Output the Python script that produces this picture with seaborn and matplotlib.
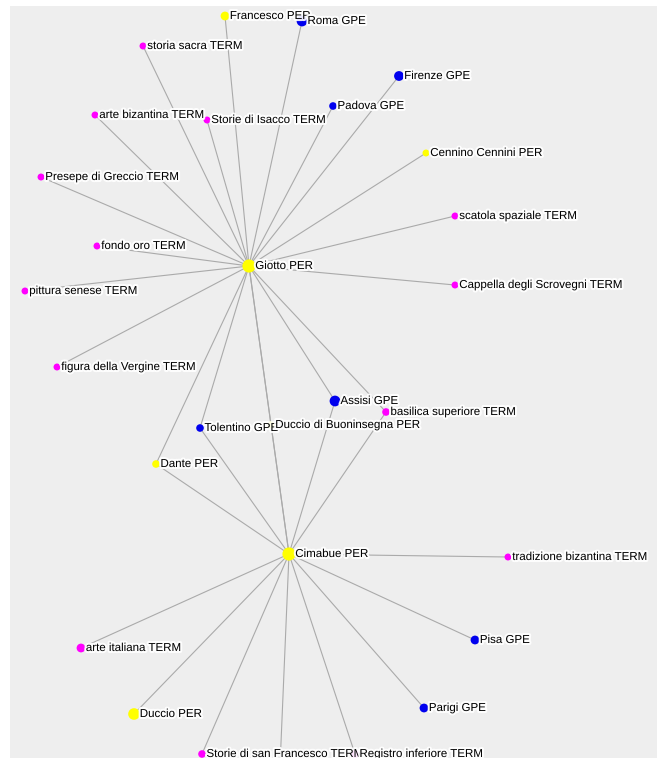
import matplotlib
matplotlib.use('Agg')
import matplotlib.pyplot as plt
import matplotlib.patheffects as pe
from matplotlib import font_manager
import seaborn as sns
import pandas as pd

# ── Graph data (positions, in pixels) ────────────────────────────────────────

names = ['Francesco PER', 'Roma GPE', 'storia sacra TERM', 'Firenze GPE',
         'Padova GPE', 'arte bizantina TERM', 'Storie di Isacco TERM',
         'Cennino Cennini PER', 'Presepe di Greccio TERM', 'scatola spaziale TERM',
         'fondo oro TERM', 'Giotto PER', 'pittura senese TERM',
         'Cappella degli Scrovegni TERM', 'figura della Vergine TERM',
         'Assisi GPE', 'basilica superiore TERM', 'Tolentino GPE',
         'Duccio di Buoninsegna PER', 'Dante PER', 'Cimabue PER',
         'tradizione bizantina TERM', 'arte italiana TERM', 'Pisa GPE',
         'Parigi GPE', 'Duccio PER', 'Storie di san Francesco TERM',
         'Registro inferiore TERM', '']
kinds = ['PER', 'GPE', 'TERM', 'GPE', 'GPE', 'TERM', 'TERM', 'PER', 'TERM', 'TERM',
         'TERM', 'PER', 'TERM', 'TERM', 'TERM', 'GPE', 'TERM', 'GPE', 'PER', 'PER',
         'PER', 'TERM', 'TERM', 'GPE', 'GPE', 'PER', 'TERM', 'TERM', 'TERM']
node_x = [225, 302, 143, 399, 333, 95, 207, 426, 41, 455, 97, 249, 25, 455, 57,
          335, 386, 200, 271, 156, 289, 508, 81, 475, 424, 134, 202, 355, 279]
node_y = [16, 21, 46, 76, 106, 115, 120, 153, 177, 216, 246, 266, 291, 285, 367,
          401, 412, 428, 425, 464, 554, 557, 648, 640, 708, 714, 754, 754, 790]
node_size = [40, 60, 25, 50, 30, 25, 25, 25, 25, 25, 25, 90, 25, 25, 25,
             60, 30, 30, 25, 30, 90, 25, 40, 40, 40, 70, 30, 30, 25]

giotto_links = ['Francesco PER', 'Roma GPE', 'storia sacra TERM', 'Firenze GPE',
                'Padova GPE', 'arte bizantina TERM', 'Storie di Isacco TERM',
                'Cennino Cennini PER', 'Presepe di Greccio TERM',
                'scatola spaziale TERM', 'fondo oro TERM', 'pittura senese TERM',
                'Cappella degli Scrovegni TERM', 'figura della Vergine TERM',
                'Assisi GPE', 'basilica superiore TERM', 'Tolentino GPE',
                'Duccio di Buoninsegna PER', 'Dante PER', 'Cimabue PER']
cimabue_links = ['Dante PER', 'Tolentino GPE', 'Duccio di Buoninsegna PER',
                 'Assisi GPE', 'basilica superiore TERM', 'tradizione bizantina TERM',
                 'arte italiana TERM', 'Duccio PER', 'Storie di san Francesco TERM',
                 '', 'Registro inferiore TERM', 'Parigi GPE', 'Pisa GPE']

edges = [('Giotto PER', n) for n in giotto_links] + \
        [('Cimabue PER', n) for n in cimabue_links]

nodes = pd.DataFrame({'name': names, 'kind': kinds, 'x': node_x,
                      'y': node_y, 'size': node_size})
pos = {r.name: (r.x, r.y) for r in nodes.itertuples()}

palette = {'PER': '#ffff00', 'GPE': '#0000ee', 'TERM': '#ff00ff'}

# ── Plot ─────────────────────────────────────────────────────────────────────

installed = {f.name for f in font_manager.fontManager.ttflist}
if 'Liberation Sans Narrow' in installed:
    plt.rcParams['font.family'] = ['Liberation Sans Narrow', 'DejaVu Sans']
    label_size = 10.2
else:
    plt.rcParams['font.family'] = ['Liberation Sans', 'DejaVu Sans']
    label_size = 8.3

fig = plt.figure(figsize=(6.57, 7.58), dpi=100)
ax = fig.add_axes([10 / 657, 0, 647 / 657, 752 / 758])
ax.set_facecolor('#eeeeee')

for a, b in edges:
    (x0, y0), (x1, y1) = pos[a], pos[b]
    ax.plot([x0, x1], [y0, y1], color='#aaaaaa', lw=0.8, zorder=1)

sns.scatterplot(data=nodes, x='x', y='y', hue='kind', size='size',
                sizes=(25, 90), palette=palette, linewidth=0,
                legend=False, ax=ax, zorder=2)

for r in nodes.itertuples():
    if not r.name:
        continue
    ax.text(r.x + 2 + r.size ** 0.5 * 0.45, r.y, r.name, fontsize=label_size,
            va='center', ha='left', color='black', zorder=3,
            path_effects=[pe.withStroke(linewidth=3, foreground='white', alpha=0.9)])

ax.set_xlim(10, 657)
ax.set_ylim(758, 6)
ax.set_axis_off()
ax.add_patch(plt.Rectangle((10, 6), 647, 752, color='#eeeeee', zorder=0))

fig.savefig('out.png', dpi=100)
